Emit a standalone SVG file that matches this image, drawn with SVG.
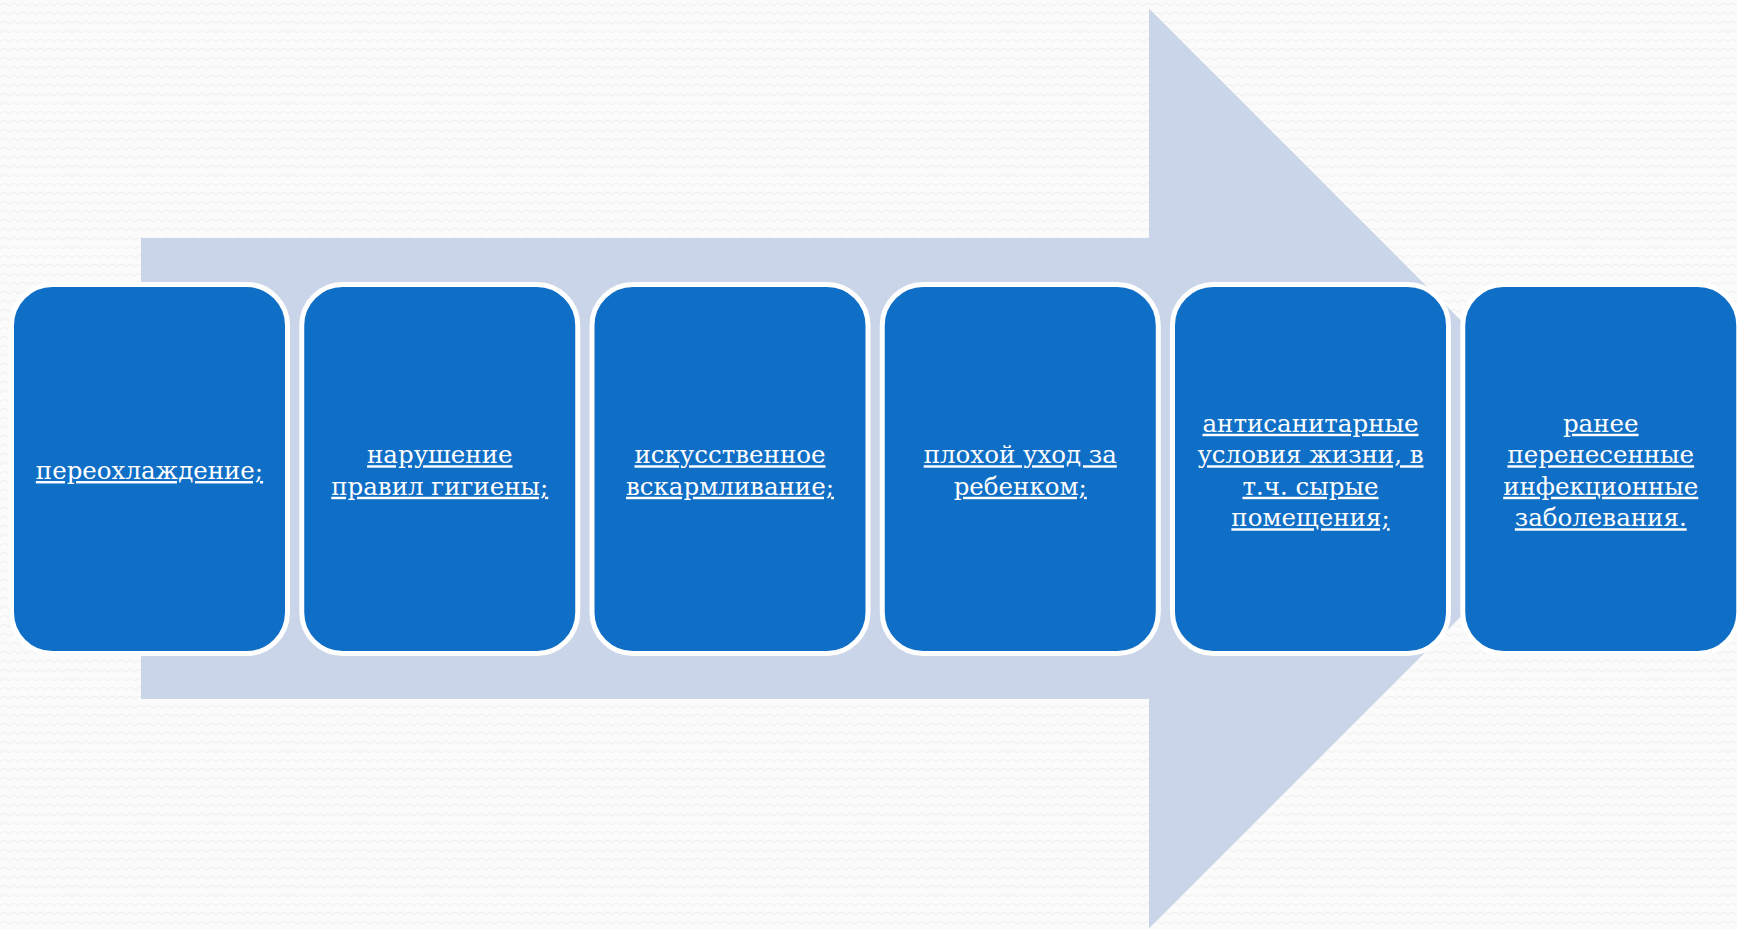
<svg xmlns="http://www.w3.org/2000/svg" width="1737" height="929" viewBox="0 0 1737 929">
  <defs>
    <pattern id="bgpat" width="9" height="9" patternUnits="userSpaceOnUse">
      <rect width="9" height="9" fill="#fbfbfb"/>
      <path d="M0 6 Q4.5 1 9 6" fill="none" stroke="#f1f1f1" stroke-width="1.2"/>
    </pattern>
    <style>
      .box { fill: #0f6ec6; stroke: #ffffff; stroke-width: 5; }
      .lbl { font-family: "DejaVu Serif", "Liberation Serif", serif; font-size: 24.5px; fill: #ffffff; text-anchor: middle; text-decoration: underline; text-decoration-thickness: 2.5px; text-underline-offset: 3px; text-decoration-skip-ink: none; }
    </style>
  </defs>
  <rect x="0" y="0" width="1737" height="929" fill="url(#bgpat)"/>
  <g id="arrow">
    <polygon points="141,238 1149,238 1149,8.5 1609,468.5 1149,928.5 1149,699 141,699" fill="#cad5e9"/>
  </g>
  <g id="connectors"></g>
  <g id="node1">
    <rect class="box" x="11.5" y="284.5" width="276" height="369" rx="41"/>
    <text class="lbl" x="149.5" y="479">переохлаждение;</text>
  </g>
  <g id="node2">
    <rect class="box" x="301.75" y="284.5" width="276" height="369" rx="41"/>
    <text class="lbl" x="439.75" y="463.25">нарушение</text>
    <text class="lbl" x="439.75" y="494.75">правил гигиены;</text>
  </g>
  <g id="node3">
    <rect class="box" x="592" y="284.5" width="276" height="369" rx="41"/>
    <text class="lbl" x="730" y="463.25">искусственное</text>
    <text class="lbl" x="730" y="494.75">вскармливание;</text>
  </g>
  <g id="node4">
    <rect class="box" x="882.25" y="284.5" width="276" height="369" rx="41"/>
    <text class="lbl" x="1020.25" y="463.25">плохой уход за</text>
    <text class="lbl" x="1020.25" y="494.75">ребенком;</text>
  </g>
  <g id="node5">
    <rect class="box" x="1172.5" y="284.5" width="276" height="369" rx="41"/>
    <text class="lbl" x="1310.5" y="431.75">антисанитарные</text>
    <text class="lbl" x="1310.5" y="463.25">условия жизни, в</text>
    <text class="lbl" x="1310.5" y="494.75">т.ч. сырые</text>
    <text class="lbl" x="1310.5" y="526.25">помещения;</text>
  </g>
  <g id="node6">
    <rect class="box" x="1462.75" y="284.5" width="276" height="369" rx="41"/>
    <text class="lbl" x="1600.75" y="431.75">ранее</text>
    <text class="lbl" x="1600.75" y="463.25">перенесенные</text>
    <text class="lbl" x="1600.75" y="494.75">инфекционные</text>
    <text class="lbl" x="1600.75" y="526.25">заболевания.</text>
  </g>
</svg>
